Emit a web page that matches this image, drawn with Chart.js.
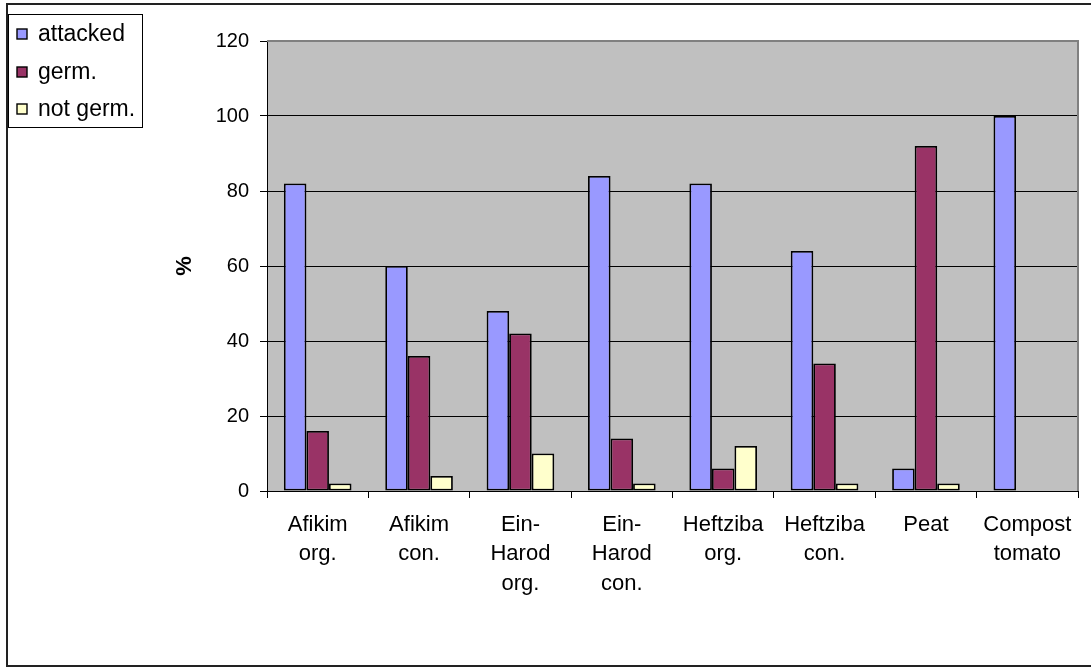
<!DOCTYPE html>
<html>
<head>
<meta charset="utf-8">
<script src="https://cdn.jsdelivr.net/npm/chart.js@4/dist/chart.umd.min.js"></script>
<style>
  html, body { margin: 0; padding: 0; background: #fff; }
  canvas { display: block; }
</style>
</head>
<body>
<canvas id="c" width="1091" height="668"></canvas>
<script>
// Substrate samples and outcome shares (%)
const categories = [
  ['Afikim', 'org.'],
  ['Afikim', 'con.'],
  ['Ein-', 'Harod', 'org.'],
  ['Ein-', 'Harod', 'con.'],
  ['Heftziba', 'org.'],
  ['Heftziba', 'con.'],
  ['Peat'],
  ['Compost', 'tomato']
];
const attacked = [82, 60, 48, 84, 82, 64, 6, 100];
const germ     = [16, 36, 42, 14, 6, 34, 92, 0];
const notGerm  = [2, 4, 10, 2, 12, 2, 2, 0];
const seriesNames = ['attacked', 'germ.', 'not germ.'];
const yTicks = [0, 20, 40, 60, 80, 100, 120];

const FONT = 'Liberation Sans, Arial, sans-serif';

// Grey plot background, plot frame and the outer chart border
const frame = {
  id: 'frame',
  beforeDraw(chart) {
    const { ctx, chartArea: a } = chart;
    ctx.save();
    ctx.fillStyle = '#C0C0C0';
    ctx.fillRect(a.left, a.top, a.right - a.left, a.bottom - a.top);
    ctx.restore();
  },
  afterDraw(chart) {
    const { ctx, chartArea: a } = chart;
    ctx.save();
    // plot frame (top and right edges)
    ctx.strokeStyle = '#808080';
    ctx.lineWidth = 2;
    ctx.beginPath();
    ctx.moveTo(a.left, a.top);
    ctx.lineTo(a.right, a.top);
    ctx.lineTo(a.right, a.bottom);
    ctx.stroke();
    // outer chart border
    ctx.strokeStyle = '#222';
    ctx.lineWidth = 2;
    ctx.strokeRect(7, 4, 1200, 662);
    ctx.restore();
  }
};

// Boxed legend in the upper-left corner
const boxLegend = {
  id: 'boxLegend',
  afterDraw(chart) {
    const { ctx } = chart;
    const x0 = 8, y0 = 14, w = 134, h = 113;
    ctx.save();
    ctx.fillStyle = '#fff';
    ctx.fillRect(x0, y0, w, h);
    ctx.strokeStyle = '#000';
    ctx.lineWidth = 1;
    ctx.strokeRect(x0 + 0.5, y0 + 0.5, w, h);
    ctx.font = '23px ' + FONT;
    ctx.textBaseline = 'middle';
    const rows = [34, 72, 109];
    chart.data.datasets.forEach((ds, i) => {
      const cy = rows[i];
      ctx.fillStyle = ds.backgroundColor;
      ctx.fillRect(17, cy - 5, 10, 10);
      ctx.strokeStyle = '#000';
      ctx.lineWidth = 1.4;
      ctx.strokeRect(17, cy - 5, 10, 10);
      ctx.fillStyle = '#000';
      ctx.fillText(ds.label, 38, cy + 1);
    });
    ctx.restore();
  }
};

const mk = (label, data, color) => ({
  label, data,
  backgroundColor: color,
  borderColor: '#000',
  borderWidth: 1.8,
  borderSkipped: false,
  categoryPercentage: 0.667,
  barPercentage: 1.0
});

new Chart(document.getElementById('c'), {
  type: 'bar',
  data: {
    labels: categories,
    datasets: [
      mk(seriesNames[0], attacked, '#9999FF'),
      mk(seriesNames[1], germ, '#993366'),
      mk(seriesNames[2], notGerm, '#FFFFCC')
    ]
  },
  options: {
    responsive: false,
    animation: false,
    layout: { padding: { top: 41, right: 13, left: 0, bottom: 0 } },
    plugins: {
      legend: { display: false },
      tooltip: { enabled: false }
    },
    scales: {
      x: {
        grid: {
          display: true, drawOnChartArea: false, drawTicks: true,
          tickLength: 7, color: '#000', offset: true
        },
        border: { color: '#000', width: 1 },
        ticks: {
          color: '#000', padding: 12, maxRotation: 0, autoSkip: false,
          font: { family: FONT, size: 22, lineHeight: 1.34 }
        },
        afterFit(s) { s.height = 177; }
      },
      y: {
        min: 0, max: 120,
        afterBuildTicks(s) { s.ticks = yTicks.map(v => ({ value: v })); },
        grid: { color: '#000', lineWidth: 1, tickLength: 7, drawTicks: true },
        border: { color: '#000', width: 1 },
        ticks: {
          color: '#000', padding: 11,
          font: { family: FONT, size: 20 }
        },
        title: {
          display: true, text: '%', color: '#000',
          font: { family: FONT, size: 22, weight: 'bold' },
          padding: { top: 172, bottom: 0 }
        },
        afterFit(s) { s.width = 267; }
      }
    }
  },
  plugins: [frame, boxLegend]
});
</script>
</body>
</html>
